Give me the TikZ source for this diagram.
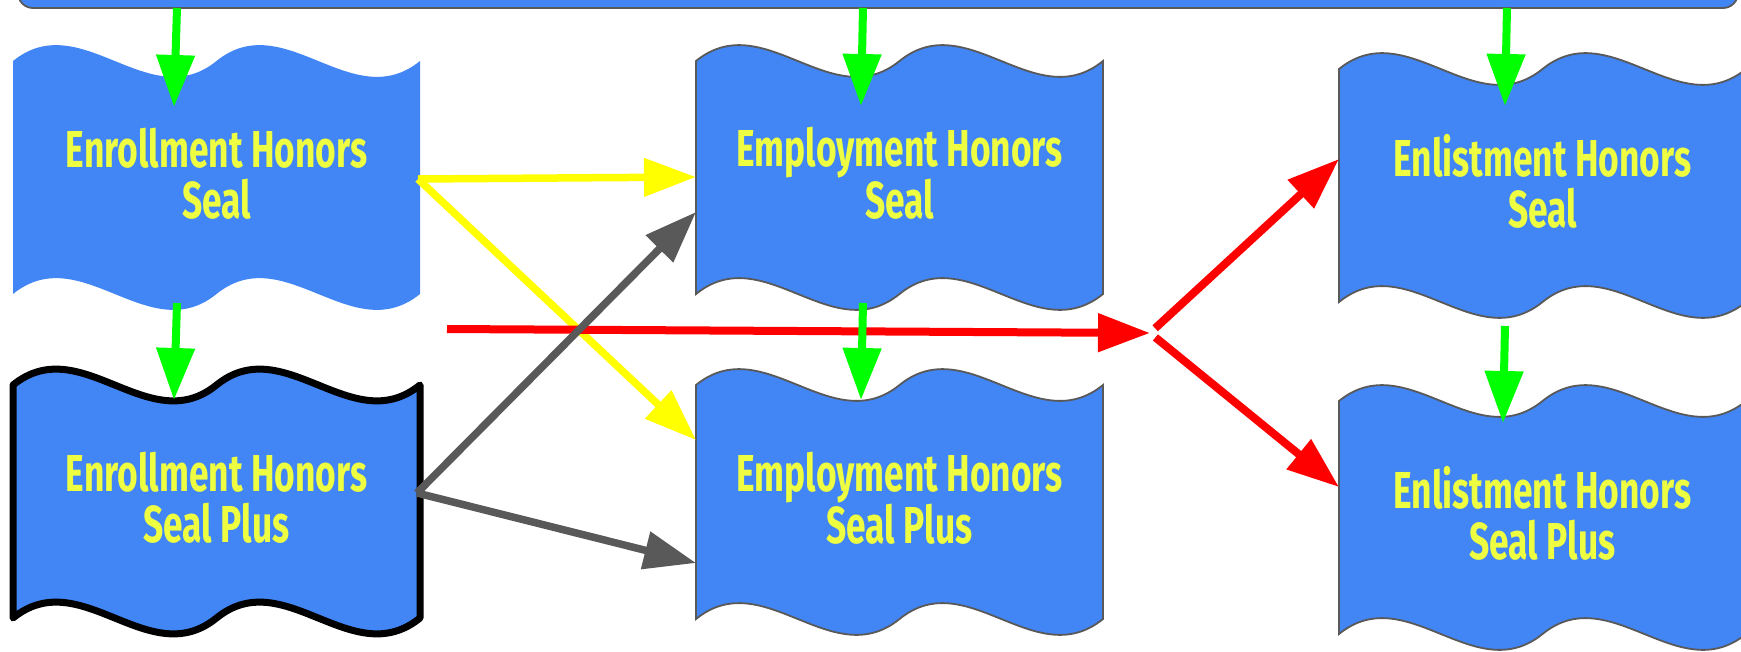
\documentclass[tikz,border=0pt]{standalone}
\usepackage{fontspec}
\setmainfont{Fira Sans}[FakeStretch=0.68]
\usetikzlibrary{arrows.meta}
\definecolor{boxblue}{HTML}{4285F4}
\definecolor{txtyellow}{HTML}{EEFF41}
\definecolor{edgegray}{HTML}{595959}
\definecolor{arrgreen}{HTML}{00FF00}
\definecolor{arryellow}{HTML}{FFFF00}
\definecolor{arrred}{HTML}{FF0000}
% #1 L, #2 R, #3 T, #4 B, #5 style
\newcommand\wavebox[5]{%
  \path[#5] (#1,#3)
    .. controls ({#1+(#2-#1)/6},{#3-55}) and ({#1+(#2-#1)/3},{#3+55}) .. ({(#1+#2)/2},#3)
    .. controls ({#1+2*(#2-#1)/3},{#3-55}) and ({#1+5*(#2-#1)/6},{#3+55}) .. (#2,#3)
    -- (#2,#4)
    .. controls ({#1+5*(#2-#1)/6},{#4+55}) and ({#1+2*(#2-#1)/3},{#4-55}) .. ({(#1+#2)/2},#4)
    .. controls ({#1+(#2-#1)/3},{#4+55}) and ({#1+(#2-#1)/6},{#4-55}) .. (#1,#4) -- cycle;}
\tikzset{
  wave/.style={fill=boxblue, draw=edgegray, line width=1.8pt},
  wavebare/.style={fill=boxblue},
  wavebold/.style={fill=boxblue, draw=black, line width=7pt, line join=round},
  lbl/.style={text=txtyellow, align=center, font=\bfseries\fontsize{52}{51}\selectfont},
  tipA/.style={-{Triangle[length=52pt,width=37pt]}},
  garr/.style={tipA, draw=arrgreen, line width=8pt},
  yarr/.style={tipA, draw=arryellow, line width=7.5pt},
  karr/.style={tipA, draw=edgegray, line width=7.5pt},
  rarr/.style={tipA, draw=arrred, line width=8pt},
}
\begin{document}
\begin{tikzpicture}[x=1pt,y=-1pt]
\useasboundingbox (0,0) rectangle (1741,651);
\clip (0,0) rectangle (1741,651);
\fill[white] (0,0) rectangle (1741,651);
% banner
\draw[fill=boxblue, draw=edgegray, line width=1.8pt, rounded corners=15pt] (18,-40) rectangle (1738,8);
% shapes
\wavebox{13}{420}{61}{294}{wavebare}
\wavebox{13}{420}{385}{618}{wavebold}
\wavebox{696}{1103}{61}{294}{wave}
\wavebox{696}{1103}{385}{619}{wave}
\wavebox{1339}{1746}{69}{302}{wave}
\wavebox{1339}{1746}{401}{634}{wave}
% labels
\node[lbl] (e1) at (216.5,173.5) {Enrollment Honors\\Seal};
\node[lbl] (e2) at (216.5,497.5) {Enrollment Honors\\Seal Plus};
\node[lbl] (m1) at (899.5,173.5) {Employment Honors\\Seal};
\node[lbl] (m2) at (899.5,498) {Employment Honors\\Seal Plus};
\node[lbl] (n1) at (1542.5,181.5) {Enlistment Honors\\Seal};
\node[lbl] (n2) at (1542.5,513.5) {Enlistment Honors\\Seal Plus};
% connection points
\coordinate (b1) at (177,8);   \coordinate (e1t) at (174,107);
\coordinate (e1b) at (177,303); \coordinate (e2t) at (174,400);
\coordinate (b2) at (863,8);   \coordinate (m1t) at (861,106);
\coordinate (m1b) at (863,303); \coordinate (m2t) at (861,400);
\coordinate (b3) at (1507,8);  \coordinate (n1t) at (1505,106);
\coordinate (n1b) at (1505,326); \coordinate (n2t) at (1503,423);
\coordinate (e1r) at (418,179); \coordinate (m1l) at (696,177); \coordinate (m2l) at (696,440);
\coordinate (e2r) at (417,493); \coordinate (m1lo) at (696,212); \coordinate (m2lo) at (696,563);
\coordinate (rs) at (447,329); \coordinate (rj) at (1150,333);
\coordinate (n1l) at (1339,159); \coordinate (n2l) at (1339,487);
% yellow
\draw[yarr] (e1r) -- (m1l);
\draw[yarr] (e1r) -- (m2l);
% red
\draw[rarr] (rs) -- (rj);
\draw[rarr, shorten <=7pt] (rj) -- (n1l);
\draw[rarr, shorten <=7pt] (rj) -- (n2l);
% gray
\draw[karr] (e2r) -- (m1lo);
\draw[karr] (e2r) -- (m2lo);
% green
\draw[garr] (b1) -- (e1t);
\draw[garr] (e1b) -- (e2t);
\draw[garr] (b2) -- (m1t);
\draw[garr] (m1b) -- (m2t);
\draw[garr] (b3) -- (n1t);
\draw[garr] (n1b) -- (n2t);
\end{tikzpicture}
\end{document}
